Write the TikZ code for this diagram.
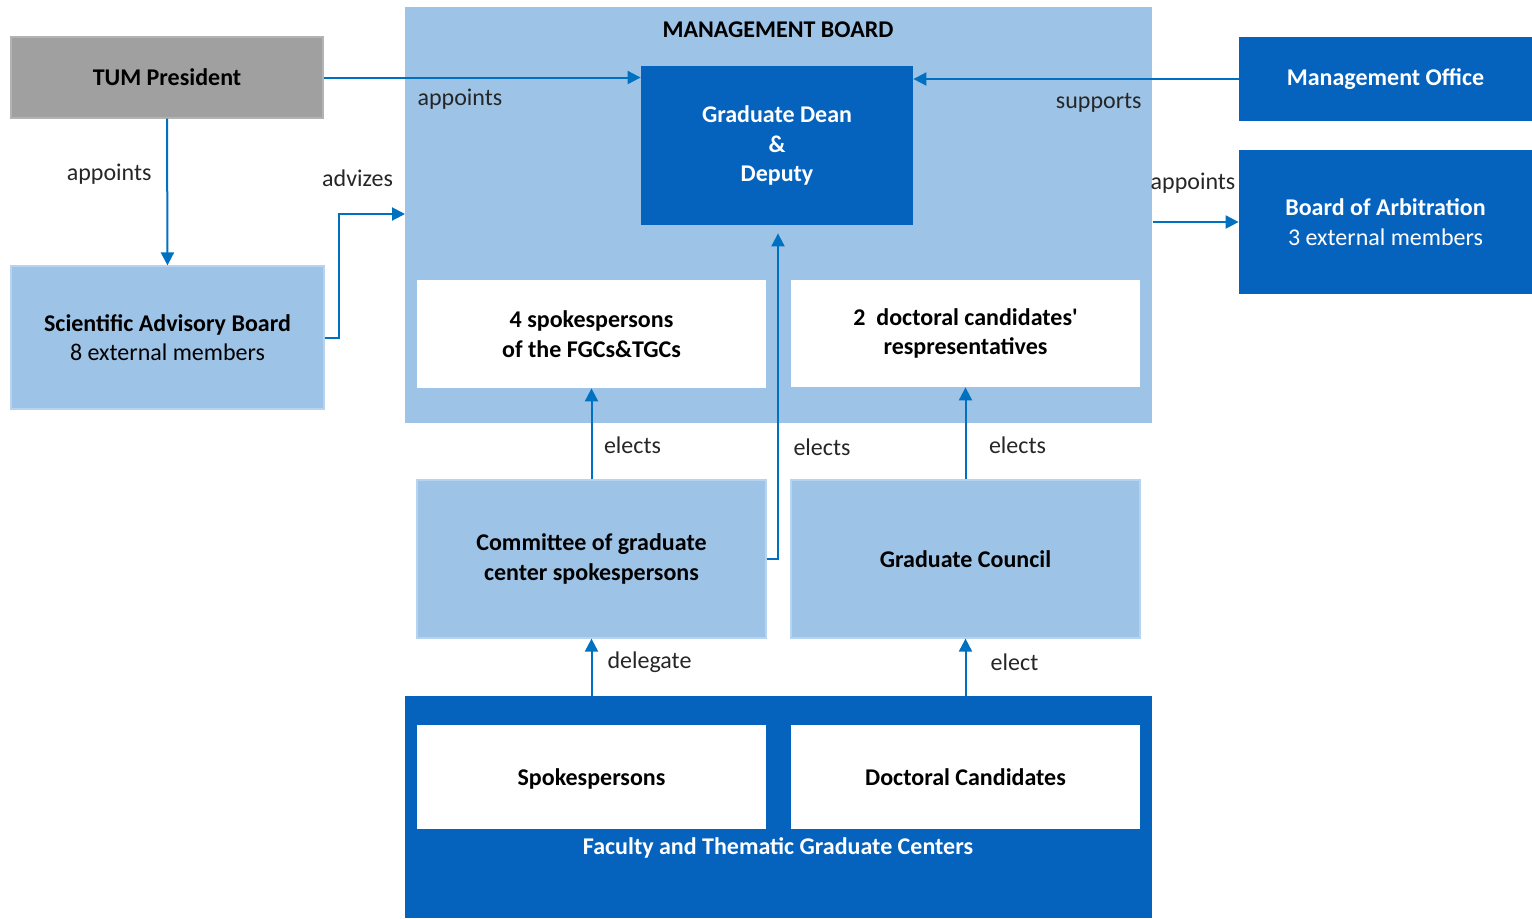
\documentclass[tikz,border=0pt]{standalone}
\usepackage{fontspec}
\setmainfont{Carlito}
\usepackage{tikz}
\usetikzlibrary{arrows.meta}
\usetikzlibrary{calc}
\usetikzlibrary{positioning}
\definecolor{lightblue}{RGB}{157,195,230}
\definecolor{lightedge}{RGB}{182,211,239}
\definecolor{darkblue}{RGB}{5,99,190}
\definecolor{arrowblue}{RGB}{0,112,192}
\definecolor{presgrey}{RGB}{160,160,160}
\tikzstyle{block} = [rectangle, inner sep=0pt, align=center,
font=\fontsize{12}{14.75}\selectfont\bfseries, text=black]
\tikzstyle{lblock} = [block, fill=lightblue, draw=lightedge, line width=0.6pt]
\tikzstyle{dblock} = [block, fill=darkblue, text=white]
\tikzstyle{wblock} = [block, fill=white]
\tikzstyle{gblock} = [block, fill=presgrey, draw=presgrey!80, line width=0.6pt]
\tikzstyle{lbl} = [font=\fontsize{12}{14.75}\selectfont, text=black!85, inner sep=0pt]
\tikzstyle{conn} = [draw=arrowblue, line width=1pt, -{Triangle[length=6.5pt,width=6.5pt]}]

\begin{document}
\begin{tikzpicture}[x=0.5pt, y=-0.5pt]
	\useasboundingbox (0,0) rectangle (1532,918);
	
	% management board and its members
	\node [lblock, draw=none, minimum width=373.5pt, minimum height=208pt] (mgmtBoard) at (778.5,215) {};
	\node [block] (mgmtTitle) at (778,30) {MANAGEMENT BOARD};
	\node [dblock, minimum width=136pt, minimum height=79.5pt] (gradDean) at (777,145.5) {Graduate Dean\\\&\\Deputy};
	\node [wblock, minimum width=174.5pt, minimum height=54pt] (spokes4) at (591.5,334) {4 spokespersons\\of the FGCs\&TGCs};
	\node [wblock, minimum width=174.5pt, minimum height=53.5pt] (candReps) at (965.5,333.5) {2\ \ doctoral candidates\textquotesingle\\respresentatives};
	
	\node [gblock, minimum width=156pt, minimum height=40.5pt] (tumPresident) at (167,77.5) {TUM President};
	\node [lblock, minimum width=156.5pt, minimum height=71.5pt] (advisoryBoard) at (167.5,337.5) {Scientific Advisory Board\\\mdseries 8 external members};
	
	\node [dblock, minimum width=146.5pt, minimum height=42pt] (mgmtOffice) at (1385.5,79) {Management Office};
	\node [dblock, minimum width=146.5pt, minimum height=72pt] (arbitration) at (1385.5,222) {Board of Arbitration\\\mdseries 3 external members};
	
	\node [lblock, minimum width=174.5pt, minimum height=79pt] (committee) at (591.5,559) {Committee of graduate\\center spokespersons};
	\node [lblock, minimum width=174.5pt, minimum height=79pt] (gradCouncil) at (965.5,559) {Graduate Council};
	
	% graduate centers
	\node [dblock, minimum width=373.5pt, minimum height=111pt] (centers) at (778.5,807) {};
	\node [wblock, text depth=0pt, minimum width=174.5pt, minimum height=52pt] (spokes) at (591.5,777) {Spokespersons};
	\node [wblock, text depth=0pt, minimum width=174.5pt, minimum height=52pt] (candidates) at (965.5,777) {Doctoral Candidates};
	\node [block, text=white] (centersTitle) at (778,848) {Faculty and Thematic Graduate Centers};
	
	\coordinate (advIn) at (405,214);
	
	\draw [conn] (tumPresident.east) -- node[lbl, pos=0.43, yshift=-11pt] {appoints} (tumPresident.east -| gradDean.west);
	\draw [conn] (tumPresident.south) -- node[lbl, pos=0.38, xshift=-29pt] {appoints} (advisoryBoard.north);
	\draw [conn] (advisoryBoard.east) -- ++(14,0) |- node[lbl, pos=0.5, xshift=9.5pt, yshift=18pt] {advizes} (advIn);
	\draw [conn] (mgmtOffice.west) -- node[lbl, pos=0.43, yshift=-12pt] {supports} (mgmtOffice.west -| gradDean.east);
	\draw [conn] (mgmtBoard.east |- arbitration) -- node[lbl, pos=0.47, yshift=19.5pt] {appoints} (arbitration.west);
	
	\draw [conn] (committee.north) -- node[lbl, pos=0.37, xshift=20.5pt] {elects} (spokes4.south);
	\draw [conn] (committee.east) -| node[lbl, pos=0.672, xshift=22pt] {elects} ([xshift=0.5pt, yshift=-4pt]gradDean.south);
	\draw [conn] (gradCouncil.north) -- node[lbl, pos=0.37, xshift=26pt] {elects} (candReps.south);
	
	\draw [conn] (centers.north -| committee) -- node[lbl, pos=0.59, xshift=29pt] {delegate} (committee.south);
	\draw [conn] (centers.north -| gradCouncil) -- node[lbl, pos=0.59, xshift=24.5pt] {elect} (gradCouncil.south);
\end{tikzpicture}
\end{document}
